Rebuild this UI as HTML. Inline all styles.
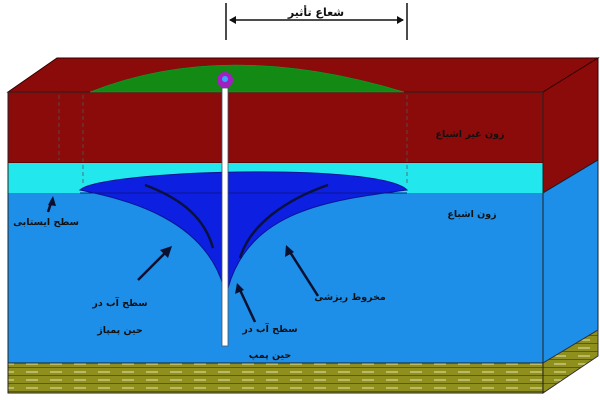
<!DOCTYPE html>
<html><head><meta charset="utf-8"><style>html,body{margin:0;padding:0;background:#fff}svg{display:block}</style></head><body>
<svg width="600" height="400" viewBox="0 0 600 400" xmlns="http://www.w3.org/2000/svg" font-family="'Liberation Sans','DejaVu Sans',sans-serif">
<defs>
<pattern id="brick" width="24" height="8" patternUnits="userSpaceOnUse">
<rect width="24" height="8" fill="#8f8f1e"/>
<line x1="2" y1="4" x2="14" y2="4" stroke="#d8d890" stroke-width="1.2"/>
<line x1="0" y1="7.5" x2="24" y2="7.5" stroke="#4a4a10" stroke-width="0.8"/>
</pattern>
</defs>
<polygon points="8,92 57,58 598,58 543,92" fill="#8b0a0a" stroke="#300" stroke-width="1"/>
<polygon points="543,92 598,58 598,160 543,193" fill="#8b0a0a" stroke="#300"/>
<polygon points="543,193 598,160 598,330 543,363" fill="#1e8fe8" stroke="#123"/>
<polygon points="543,363 598,330 598,356 543,393" fill="url(#brick)" stroke="#333"/>
<rect x="8" y="92" width="535" height="71" fill="#8b0a0a" stroke="#300"/>
<rect x="8" y="163" width="535" height="30" fill="#22e8ee"/>
<rect x="8" y="193" width="535" height="170" fill="#1e8fe8"/>
<rect x="8" y="363" width="535" height="30" fill="url(#brick)"/>
<rect x="8" y="92" width="535" height="301" fill="none" stroke="#222"/>
<line x1="8" y1="363" x2="543" y2="363" stroke="#222"/>
<g stroke="#555" stroke-dasharray="4,3" stroke-width="0.8">
<line x1="59" y1="95" x2="59" y2="160"/><line x1="83" y1="95" x2="83" y2="185"/>
<line x1="407" y1="95" x2="407" y2="185"/>
</g>
<path d="M90,92 Q226,38 404,92 Z" fill="#138a13" stroke="#0a3" stroke-width="0.5"/>
<path d="M80,190 C100,170 380,162 407,190 C330,200 250,210 228,288 L224,288 C205,220 130,200 80,190 Z" fill="#0d1fe0" stroke="#0a1590"/>
<line x1="80" y1="193" x2="407" y2="193" stroke="#0a1590" stroke-width="1"/>
<path d="M145,185 C185,200 205,220 213,248" fill="none" stroke="#0a1040" stroke-width="2.5"/>
<path d="M328,185 C285,200 250,225 240,258" fill="none" stroke="#0a1040" stroke-width="2.5"/>
<rect x="222" y="88" width="6" height="258" fill="#fff" stroke="#456" stroke-width="0.8"/>
<circle cx="225" cy="80" r="8" fill="#a020c0"/>
<circle cx="225" cy="79" r="3" fill="#30a8ff"/>
<g stroke="#111" stroke-width="1.5">
<line x1="226" y1="3" x2="226" y2="40"/><line x1="407" y1="3" x2="407" y2="40"/>
<line x1="230" y1="20" x2="403" y2="20"/>
</g>
<polygon points="229,20 236,16 236,24" fill="#111"/><polygon points="404,20 397,16 397,24" fill="#111"/>
<text x="316" y="16" font-size="11" font-weight="bold" text-anchor="middle" fill="#111" font-family="'DejaVu Sans',sans-serif">شعاع تأثیر</text>
<g font-family="'DejaVu Sans',sans-serif" font-size="9.5" font-weight="bold" fill="#111" text-anchor="middle">
<text x="470" y="137">زون غیر اشباع</text>
<text x="472" y="217">زون اشباع</text>
<text x="46" y="225">سطح ایستابی</text>
<text x="120" y="306">سطح آب در</text>
<text x="120" y="333">حین پمپاژ</text>
<text x="350" y="300">مخروط ریزشی</text>
<text x="270" y="332">سطح آب در</text>
<text x="270" y="358">حین پمپ</text>
</g>
<g stroke="#0a1030" stroke-width="2.5" fill="#0a1030">
<line x1="48" y1="212" x2="52" y2="200"/>
<line x1="138" y1="280" x2="166" y2="252"/>
<line x1="318" y1="296" x2="290" y2="252"/>
<line x1="255" y1="322" x2="240" y2="290"/>
</g>
<g fill="#0a1030">
<polygon points="53,196 48,205 56,206"/>
<polygon points="172,246 160,250 168,258"/>
<polygon points="286,245 285,257 294,252"/>
<polygon points="237,283 235,294 244,290"/>
</g>
</svg>
</body></html>
